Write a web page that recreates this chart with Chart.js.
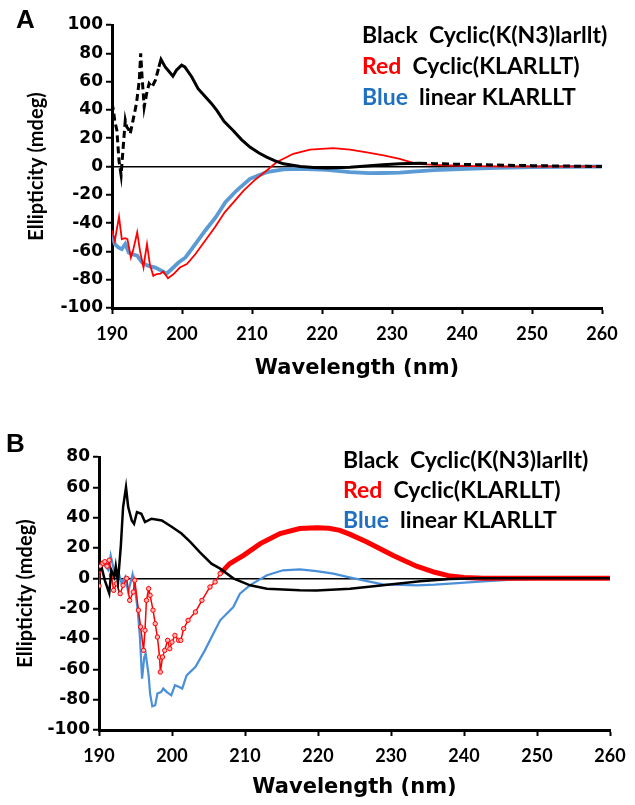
<!DOCTYPE html>
<html>
<head>
<meta charset="utf-8">
<script src="https://cdn.jsdelivr.net/npm/chart.js@4.4.1/dist/chart.umd.min.js"></script>
<style>
  html, body { margin: 0; padding: 0; background: #fff; }
  canvas { display: block; position: absolute; left: 0; }
  #chartA { top: 0; }
  #chartB { top: 400px; }
</style>
</head>
<body>
<canvas id="chartA" width="635" height="400"></canvas>
<canvas id="chartB" width="635" height="405"></canvas>
<script>
// ---- panel A data (wavelength nm / ellipticity mdeg) ----
const aBlackX = [190.0,190.2,190.4,190.7,191.0,191.3,191.6,191.9,192.1,192.4,192.6,193.0,193.5,193.9,194.1,194.3,194.6,194.95,195.3,195.7,196.2,196.7,197.0,197.6,198.0,198.7,199.2,199.95,200.4,201.4,202.3,203.3,204.2,205.0,206.0,207.3,208.5,209.7,211.0,212.1,213.3,214.5,216.9,218.8,220.7,224.0,228.7,231.1,234,236,240,245,250,255,260];
const aBlackY = [45,40,32,25.5,4,-6,13.7,32.6,28,26,23,32.6,44.7,61,80,63,42,51.6,58.6,56,61,70.4,75.7,70.4,68,63.8,68,71.6,70.4,63.3,55,49.5,44.6,39.5,32,25.5,19,13.7,9.5,6.6,4,1.9,0,-0.7,-1,-0.5,1.2,1.9,2.3,2.0,1.5,1.0,0.6,0.3,0];

const aRedX = [190.0,190.4,191.0,191.4,191.9,192.2,192.7,193.0,193.6,194.0,194.5,194.7,195.0,195.4,195.9,196.4,196.9,197.3,198.0,198.8,199.7,200.7,201.9,203.3,204.7,206.1,207.5,208.8,210.3,212.1,213.5,215.9,218.3,221.6,224.0,226.4,228.8,231.1,233.5,236,238.3,242,246,250,255,260];
const aRedY = [-45,-52.5,-35.5,-51.3,-50.6,-51.3,-64.3,-59.6,-46.6,-59.6,-71.4,-64.3,-54.8,-69,-77.3,-76,-75.7,-74.2,-79,-76,-71.4,-69,-62,-52.5,-43,-32.4,-24.5,-17,-10,-2.8,3,9,12,13,12,10,7.8,5.4,1.9,1.2,0.7,0.3,0,0,0,0];

const aBlueX = [190.0,190.4,190.9,191.4,191.9,192.4,192.9,193.6,194.3,195.2,196.2,197.1,197.8,198.5,199.5,200.5,201.9,203.3,204.8,206.2,207.8,209.7,212.1,214.5,216.9,220.7,224.0,226.7,228.7,231.1,233.5,236,240.7,245,250.2,255,260];
const aBlueY = [-47.8,-54.8,-57.2,-58.4,-54.8,-60.8,-62,-63,-67.9,-70.2,-71.4,-73.8,-75.7,-72.6,-67.9,-64.3,-54.8,-45.4,-36,-25.3,-17,-8.7,-4,-2.1,-1.7,-2.4,-4,-4.7,-4.6,-4.3,-3.5,-2.6,-1.6,-1,-0.5,-0.2,0];

// ---- panel B data ----
const bBlackX = [190.0,190.4,190.8,191.4,191.7,192.1,192.3,192.6,193.0,193.3,193.7,194.0,194.5,194.8,195.2,195.8,196.3,197.2,198.6,200.0,201.3,202.5,203.8,205.4,206.6,208.4,210.7,213.0,217.5,219.8,224.4,228.9,234.0,238.1,242,250,260];
const bBlackY = [5.3,6.4,-1.3,-9.7,5.3,0.9,7.9,-2.4,22,47,60,47,38,36,43.7,42.6,37.1,39.3,38.2,33.8,29.5,24,17.3,9.7,6.4,0,-4.6,-6.8,-7.9,-8.1,-6.8,-4.6,-2,-0.5,0,0,0];

// red with markers in the noisy part, thick line after
const bRedDotX = [190.0,190.2,190.5,190.8,191.1,191.4,191.7,192.0,192.4,192.9,193.3,193.8,194.2,194.7,194.9,195.4,195.7,196.1,196.3,196.5,196.8,197.0,197.4,197.7,198.0,198.3,198.4,198.7,199.0,199.4,199.7,200.0,200.4,200.9,201.2,201.6,202.2,203.2,204.1,205.2,205.9,206.6];
const bRedDotY = [-5,8,10,11,8,12,2,-7.9,-3.5,-10.1,-4.6,0,-14.5,-9,-1.3,-21,-32,-47.5,-34.3,-14.5,-6.8,-11.2,-21,-29.9,-38.7,-51.9,-61.8,-51.9,-47.5,-40.9,-46.4,-42,-37.6,-40.9,-40.9,-33.2,-27.7,-22.2,-14.5,-5.7,-2.4,3.1];
const bRedX = [206.6,207.9,209.8,212.1,214.8,217.5,219.8,221.5,223,224.4,226.7,228.9,230.3,233.5,236,238.1,240,242.6,246,250,255,260];
const bRedY = [3.1,9.7,15.2,22.9,29.5,32.8,33.4,33,31.6,29,24,18.5,15,8,4,1.5,0.5,0,0,0,0,0];

const bBlueX = [190.0,190.6,191.3,191.6,192.2,192.6,193.1,193.6,194.0,194.6,194.9,195.3,195.6,195.9,196.2,196.4,196.8,197.0,197.3,197.7,198.0,198.5,198.8,199.3,199.9,200.4,201.0,201.4,202.0,203.2,204.5,205.9,206.6,208.4,209.3,210.7,212.1,213.0,215.2,217.5,219.8,222.1,224,226.7,228.9,230.3,233.5,236,238.1,242.6,247.2,252,260];
const bBlueY = [3.1,9.7,5.3,15,2,5.3,-3.5,0.9,-9,2.6,-5.7,-21,-38.7,-66.1,-51.9,-49.6,-64,-76,-84.4,-83.7,-76,-75,-72.7,-75,-77.1,-70.5,-71.7,-72.7,-64,-58.5,-47.5,-34.3,-27.7,-18.9,-10.1,-4.5,-0.5,2,5.3,5.9,4.8,3.1,1,-1.8,-4,-4.2,-4.6,-4.2,-3.5,-2,-0.7,-0.2,0];

const xTicks = [190, 200, 210, 220, 230, 240, 250, 260];
const legendRows = [
    ['Black', '#000000', 'Cyclic(K(N3)larllt)'],
    ['Red', '#ff0000', 'Cyclic(KLARLLT)'],
    ['Blue', '#1f70c1', 'linear KLARLLT']
];

const FONT = 'Lato, "Open Sans", sans-serif';
const WIDE = '"DejaVu Sans", sans-serif';

function pts(xs, ys) {
    return xs.map((x, i) => ({ x: x, y: ys[i] }));
}

function overlayPlugin(label, lx, ly, legX, legY, rowGap) {
    return {
        id: 'overlay' + label,
        afterDraw(chart) {
            const c = chart.ctx;
            c.save();
            c.fillStyle = '#000';
            c.font = 'bold 26px "Liberation Sans", Arial, sans-serif';
            c.textBaseline = 'alphabetic';
            c.fillText(label, lx, ly);

            c.font = 'bold 23px ' + FONT;
            legendRows.forEach((row, i) => {
                const y = legY + i * rowGap;
                c.fillStyle = row[1];
                c.fillText(row[0], legX, y);
                const w = c.measureText(row[0] + '  ').width;
                c.fillStyle = '#000';
                c.fillText(row[2], legX + w, y);
            });
            c.restore();
        }
    };
}

function makeOptions(cfg) {
    return {
        responsive: false,
        animation: false,
        devicePixelRatio: 1,
        layout: { padding: cfg.padding },
        plugins: { legend: { display: false }, tooltip: { enabled: false } },
        elements: { point: { radius: 0 }, line: { tension: 0 } },
        scales: {
            x: {
                type: 'linear',
                min: 190,
                max: 260,
                afterBuildTicks: s => { s.ticks = xTicks.map(v => ({ value: v })); },
                afterFit: s => { s.height = cfg.xHeight; },
                ticks: {
                    color: '#000',
                    padding: 9,
                    font: { family: FONT, size: 18, weight: 'bold' }
                },
                grid: { drawOnChartArea: false, tickLength: 6, tickColor: '#000', tickWidth: 2 },
                border: { display: true, color: '#000', width: 3 },
                title: {
                    display: true,
                    text: 'Wavelength (nm)',
                    color: '#000',
                    font: { family: WIDE, size: 21, weight: 'bold' },
                    padding: { top: 0, bottom: cfg.xTitlePad }
                }
            },
            y: {
                min: cfg.yMin,
                max: cfg.yMax,
                afterFit: s => { s.width = cfg.yWidth; },
                ticks: {
                    stepSize: 20,
                    color: '#000',
                    padding: 3,
                    font: { family: WIDE, size: 17, weight: 'bold' }
                },
                grid: {
                    color: c => (c.tick && c.tick.value === 0) ? '#000' : 'rgba(0,0,0,0)',
                    lineWidth: 1.5,
                    tickLength: 6,
                    tickColor: '#000',
                    tickWidth: 2
                },
                border: { display: true, color: '#000', width: 3 },
                title: {
                    display: true,
                    text: 'Ellipticity (mdeg)',
                    color: '#000',
                    font: { family: FONT, size: 20, weight: 'bold' },
                    padding: { top: cfg.yTitlePad, bottom: 0 }
                }
            }
        }
    };
}

// panel A
new Chart(document.getElementById('chartA'), {
    type: 'line',
    data: {
        datasets: [
            {
                data: pts(aBlackX, aBlackY),
                borderColor: '#000',
                borderWidth: 3,
                segment: {
                    borderDash: c => (c.p0.parsed.x < 196.7 || c.p0.parsed.x >= 233) ? [7, 4] : undefined
                }
            },
            { data: pts(aRedX, aRedY), borderColor: '#ff0000', borderWidth: 1.8 },
            { data: pts(aBlueX, aBlueY), borderColor: '#5b9bd5', borderWidth: 3.8 }
        ]
    },
    options: makeOptions({
        yMin: -100, yMax: 100, yWidth: 112, xHeight: 92,
        padding: { left: 0, right: 33, top: 25, bottom: 0 },
        xTitlePad: 19, yTitlePad: 25
    }),
    plugins: [overlayPlugin('A', 16, 28, 362, 43, 31)]
});

// panel B
new Chart(document.getElementById('chartB'), {
    type: 'line',
    data: {
        datasets: [
            { data: pts(bBlackX, bBlackY), borderColor: '#000', borderWidth: 2.5 },
            {
                data: pts(bRedDotX, bRedDotY),
                borderColor: '#ff0000',
                borderWidth: 1.5,
                pointRadius: 2.2,
                pointBorderWidth: 1,
                pointBorderColor: '#ff0000',
                pointBackgroundColor: '#ffb4b4'
            },
            { data: pts(bRedX, bRedY), borderColor: '#ff0000', borderWidth: 5 },
            { data: pts(bBlueX, bBlueY), borderColor: '#4a90d9', borderWidth: 2.2 }
        ]
    },
    options: makeOptions({
        yMin: -100, yMax: 80, yWidth: 99, xHeight: 75,
        padding: { left: 0, right: 25, top: 57, bottom: 0 },
        xTitlePad: 5, yTitlePad: 14
    }),
    plugins: [overlayPlugin('B', 6, 52, 343, 68, 30)]
});
</script>
</body>
</html>
